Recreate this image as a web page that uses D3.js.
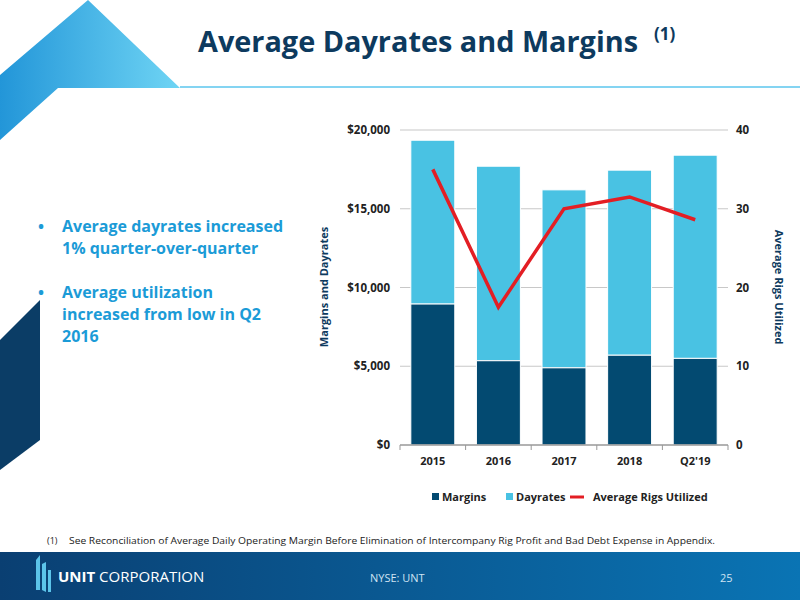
<!DOCTYPE html>
<html><head><meta charset="utf-8">
<script src="https://cdn.jsdelivr.net/npm/d3@7"></script>
<style>body{margin:0;font-family:"Open Sans",Calibri,sans-serif}svg text{font-family:"Open Sans",sans-serif}</style>
</head><body><svg id="s" width="800" height="600"></svg>
<script>
var categories = ["2015", "2016", "2017", "2018", "Q2'19"];
var margins = [8950, 5350, 4900, 5700, 5500];
var dayrates = [19350, 17700, 16200, 17450, 18400];
var rigs = [35, 17.5, 30, 31.5, 28.6];
var leftTicks = [0, 5000, 10000, 15000, 20000];
var rightTicks = [0, 10, 20, 30, 40];

var svg = d3.select("#s");
var navy = "#0d3a5e", dark = "#034a71", light = "#49c2e3", red = "#e31e24";

// background decoration
var defs = svg.append("defs");
var gr = defs.append("linearGradient").attr("id", "tri").attr("x1", 0).attr("x2", 1);
gr.append("stop").attr("offset", 0).attr("stop-color", "#0a8ad4");
gr.append("stop").attr("offset", 1).attr("stop-color", "#5fd0f3");
var fg = defs.append("linearGradient").attr("id", "foot").attr("x1", 0).attr("x2", 1);
fg.append("stop").attr("offset", 0).attr("stop-color", "#0a3f72");
fg.append("stop").attr("offset", 1).attr("stop-color", "#0a74b4");
svg.append("path").attr("d", "M0,75 L88,0 L180,88 L58,88 L0,140 Z").attr("fill", "url(#tri)").attr("opacity", 0.9);
svg.append("path").attr("d", "M0,340 L40,300 L40,440 L0,470 Z").attr("fill", "#0b3d66");
svg.append("line").attr("x1", 180).attr("x2", 800).attr("y1", 87).attr("y2", 87).attr("stroke", "#5bc6ee").attr("stroke-width", 1.5);
svg.append("text").attr("x", 198).attr("y", 52).attr("fill", navy).attr("font-size", 29).attr("font-weight", 700)
  .attr("textLength", 440).attr("lengthAdjust", "spacingAndGlyphs")
  .text("Average Dayrates and Margins");
svg.append("text").attr("x", 654).attr("y", 40).attr("fill", navy).attr("font-size", 17).attr("font-weight", 700).text("(1)");

// bullets
var bullets = [["Average dayrates increased", "1% quarter-over-quarter"], ["Average utilization", "increased from low in Q2", "2016"]];
var by = 232;
bullets.forEach(function (b) {
  svg.append("text").attr("x", 38).attr("y", by).attr("fill", "#1b9bd7").attr("font-size", 16).attr("font-weight", 700).text("•");
  b.forEach(function (l, i) {
    svg.append("text").attr("x", 62).attr("y", by + i * 22).attr("fill", "#1b9bd7").attr("font-size", 16).attr("font-weight", 700).text(l);
  });
  by += b.length * 22 + 22;
});

// chart
var x = d3.scaleBand().domain(categories).range([400, 728]).paddingInner(0.33).paddingOuter(0.165);
var y = d3.scaleLinear().domain([0, 20000]).range([445, 130]);
var y2 = d3.scaleLinear().domain([0, 40]).range([445, 130]);

svg.append("g").selectAll("line").data(leftTicks.slice(1)).enter().append("line")
  .attr("x1", 400).attr("x2", 728).attr("y1", function (d) { return y(d); }).attr("y2", function (d) { return y(d); })
  .attr("stroke", "#c8c8c8").attr("stroke-width", 1.2);

var gl = svg.append("g").attr("transform", "translate(400,0)")
  .call(d3.axisLeft(y).tickValues(leftTicks).tickSize(0).tickPadding(10).tickFormat(function (d) { return "$" + d3.format(",")(d); }));
gl.select(".domain").remove();
var gr2 = svg.append("g").attr("transform", "translate(728,0)")
  .call(d3.axisRight(y2).tickValues(rightTicks).tickSize(0).tickPadding(8));
gr2.select(".domain").remove();
[gl, gr2].forEach(function (g) { g.selectAll("text").attr("font-size", 11.5).attr("font-weight", 700).attr("fill", "#222"); });

svg.selectAll(".dr").data(categories).enter().append("rect")
  .attr("x", function (d) { return x(d); }).attr("width", x.bandwidth())
  .attr("y", function (d, i) { return y(dayrates[i]); })
  .attr("height", function (d, i) { return y(margins[i]) - y(dayrates[i]); })
  .attr("fill", light).attr("stroke", "#fff").attr("stroke-width", 1);
svg.selectAll(".mg").data(categories).enter().append("rect")
  .attr("x", function (d) { return x(d); }).attr("width", x.bandwidth())
  .attr("y", function (d, i) { return y(margins[i]); })
  .attr("height", function (d, i) { return y(0) - y(margins[i]); })
  .attr("fill", dark).attr("stroke", "#fff").attr("stroke-width", 1);

var gx = svg.append("g").attr("transform", "translate(0,445)")
  .call(d3.axisBottom(x).tickSize(0).tickPadding(12));
gx.select(".domain").attr("stroke", "#999").attr("stroke-width", 1.5).attr("d", "M400,0H728");
gx.selectAll("text").attr("font-size", 11).attr("font-weight", 700).attr("fill", "#222");
svg.append("g").selectAll("line").data(d3.range(categories.length + 1)).enter().append("line")
  .attr("x1", function (i) { return 400 + i * 328 / categories.length; })
  .attr("x2", function (i) { return 400 + i * 328 / categories.length; })
  .attr("y1", 445).attr("y2", 450).attr("stroke", "#999");

svg.append("path").datum(rigs)
  .attr("d", d3.line().x(function (d, i) { return x(categories[i]) + x.bandwidth() / 2; }).y(function (d) { return y2(d); }))
  .attr("fill", "none").attr("stroke", red).attr("stroke-width", 3.5);

svg.append("text").attr("transform", "translate(328,287) rotate(-90)").attr("text-anchor", "middle")
  .attr("font-size", 11).attr("font-weight", 700).attr("fill", navy).text("Margins and Dayrates");
svg.append("text").attr("transform", "translate(775,287) rotate(90)").attr("text-anchor", "middle")
  .attr("font-size", 11).attr("font-weight", 700).attr("fill", navy).text("Average Rigs Utilized");

// legend
var lg = svg.append("g").attr("font-size", 11).attr("font-weight", 700).attr("fill", "#222");
lg.append("rect").attr("x", 432).attr("y", 493).attr("width", 7).attr("height", 7).attr("fill", dark);
lg.append("text").attr("x", 442).attr("y", 501).text("Margins");
lg.append("rect").attr("x", 506).attr("y", 493).attr("width", 7).attr("height", 7).attr("fill", light);
lg.append("text").attr("x", 516).attr("y", 501).text("Dayrates");
lg.append("line").attr("x1", 570).attr("x2", 584).attr("y1", 497).attr("y2", 497).attr("stroke", red).attr("stroke-width", 3);
lg.append("text").attr("x", 593).attr("y", 501).text("Average Rigs Utilized");

// footnote and footer
svg.append("text").attr("x", 47).attr("y", 544).attr("font-size", 9).attr("fill", "#222").text("(1)");
svg.append("text").attr("x", 69).attr("y", 544).attr("font-size", 9.5).attr("fill", "#222")
  .attr("textLength", 646).attr("lengthAdjust", "spacingAndGlyphs")
  .text("See Reconciliation of Average Daily Operating Margin Before Elimination of Intercompany Rig Profit and Bad Debt Expense in Appendix.");
svg.append("rect").attr("x", 0).attr("y", 552).attr("width", 800).attr("height", 48).attr("fill", "url(#foot)");
svg.append("path").attr("d", "M36,560 L40,555 L40,590 L36,590 Z M42,564 L46,562 L46,592 L42,590 Z M48,570 L51,570 L51,592 L48,592 Z").attr("fill", "#5cc4ea");
svg.append("text").attr("x", 58).attr("y", 582).attr("fill", "#fff").attr("font-size", 15)
  .html('<tspan font-weight="700">UNIT</tspan> CORPORATION');
svg.append("text").attr("x", 370).attr("y", 582).attr("fill", "#cfe3f3").attr("font-size", 11).text("NYSE: UNT");
svg.append("text").attr("x", 720).attr("y", 582).attr("fill", "#cfe3f3").attr("font-size", 11).text("25");
</script></body></html>
